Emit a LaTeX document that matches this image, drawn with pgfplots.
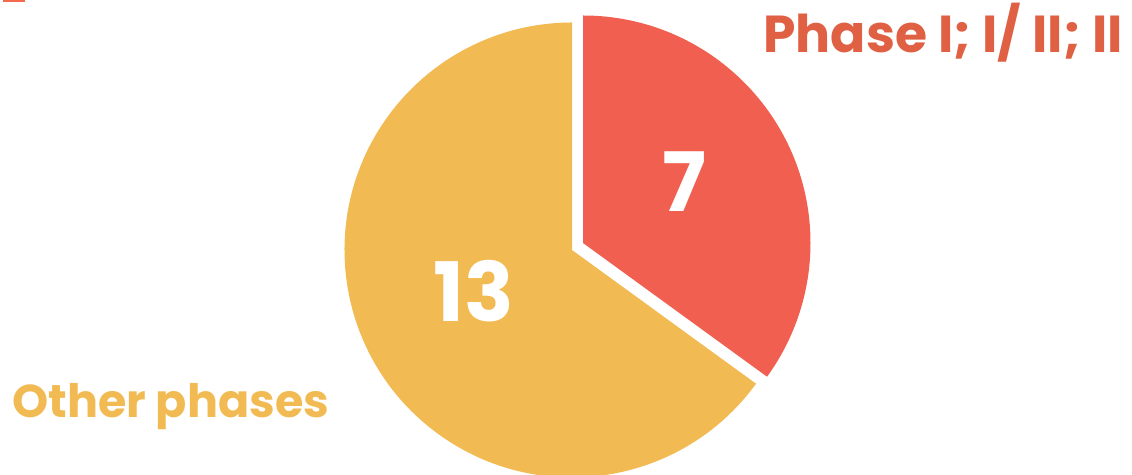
\documentclass[border=0pt]{standalone}
\usepackage{pgfplots}
\pgfplotsset{compat=1.18}
\usepackage{pgfplotstable}
\usepackage{fontspec}
\setmainfont{Poppins}
\definecolor{slicered}{HTML}{F15F51}
\definecolor{sliceyel}{HTML}{F2BA52}
\definecolor{txtred}{HTML}{E06043}
\definecolor{markred}{HTML}{F26A4B}

\pgfplotstableread{
label value
Phase 7
Other 13
}\piedata
\pgfplotstablegetelem{0}{value}\of\piedata \let\vA\pgfplotsretval
\pgfplotstablegetelem{1}{value}\of\piedata \let\vB\pgfplotsretval
\pgfmathsetmacro{\tot}{\vA+\vB}
\pgfmathsetmacro{\angA}{360*\vA/\tot}
\pgfmathsetmacro{\endA}{90-\angA}
\pgfmathsetmacro{\endB}{\endA-360*\vB/\tot}
\def\rad{113.75pt}

\begin{document}
\begin{tikzpicture}
\begin{axis}[hide axis, scale only axis, x=0.5pt, y=0.5pt,
  xmin=0, xmax=1132, ymin=0, ymax=475, clip=false,
  anchor=origin, at={(0,0)}]
\coordinate (bl) at (axis cs:0,0);
\coordinate (tr) at (axis cs:1132,475);
% other phases slice
\fill[sliceyel] (axis cs:572,225) -- ++(\endA:\rad) arc[start angle=\endA, end angle=\endB, radius=\rad] -- cycle;
% phase I/II slice (exploded)
\fill[slicered] (axis cs:583,232) -- ++(90:\rad) arc[start angle=90, end angle=\endA, radius=\rad] -- cycle;
\fill[markred] (axis cs:3,473) rectangle (axis cs:25,475);
\node[anchor=base west, inner sep=0, text=txtred, font=\fontsize{26}{30}\selectfont\bfseries] at (axis cs:763,422) {Phase I; I/ II; II};
\node[anchor=base west, inner sep=0, text=sliceyel, font=\fontsize{23}{27}\selectfont\bfseries] at (axis cs:12,57) {Other phases};
\node[anchor=base, inner sep=0, text=white, font=\fontsize{41}{48}\selectfont\bfseries] at (axis cs:684,263) {7};
\node[anchor=base, inner sep=0, text=white, font=\fontsize{41}{48}\selectfont\bfseries] at (axis cs:474,153) {13};
\end{axis}
\pgfresetboundingbox
\useasboundingbox (bl) rectangle (tr);
\end{tikzpicture}
\end{document}
